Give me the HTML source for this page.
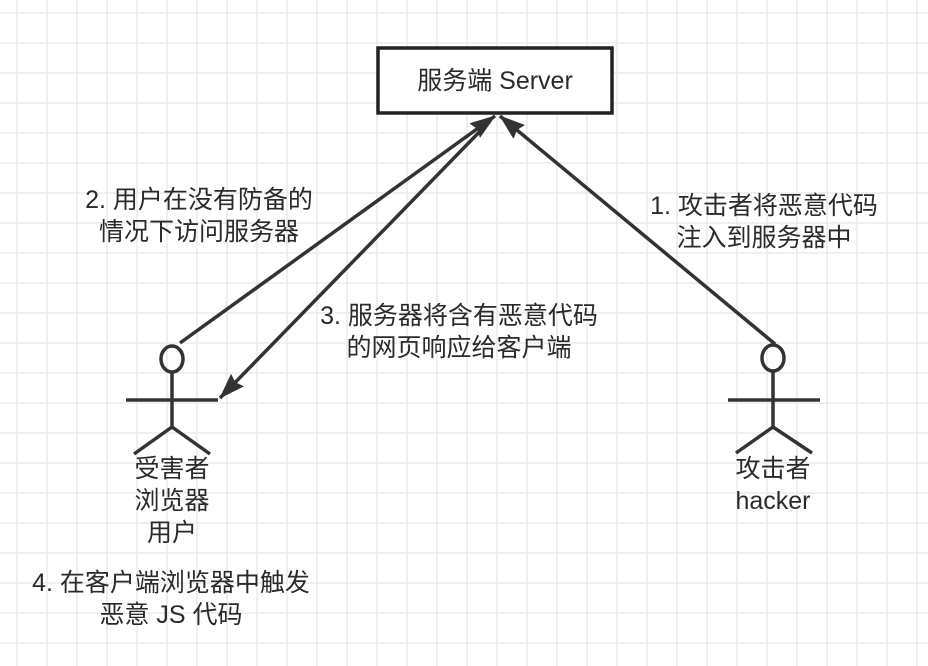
<!DOCTYPE html>
<html><head><meta charset="utf-8"><style>
html,body{margin:0;padding:0;background:#fff;}
svg{display:block;}
text{font-family:"Liberation Sans","Noto Sans CJK SC",sans-serif;font-size:25px;fill:#2a2a2a;}
</style></head><body>
<svg width="928" height="666" viewBox="0 0 928 666" xmlns="http://www.w3.org/2000/svg">
<defs>
<pattern id="g" x="16" y="12" width="30" height="30" patternUnits="userSpaceOnUse">
<path d="M0 1H30M1 0V30" stroke="#ebebeb" stroke-width="1.6" fill="none"/>
</pattern>
<marker id="a" viewBox="0 0 26 18" refX="25" refY="9" markerWidth="26" markerHeight="18" markerUnits="userSpaceOnUse" orient="auto">
<path d="M0 0L26 9L0 18L3 9Z" fill="#333"/>
</marker>
</defs>
<rect width="928" height="666" fill="url(#g)"/>
<rect x="378" y="48" width="234" height="65" fill="#fff" stroke="#222" stroke-width="3.5"/>
<text x="495" y="81" text-anchor="middle" dominant-baseline="central">服务端 Server</text>
<g stroke="#333" stroke-width="3.5" fill="none">
<line x1="180" y1="343" x2="495" y2="116" marker-end="url(#a)"/>
<line x1="490" y1="121" x2="220" y2="398" marker-end="url(#a)"/>
<line x1="775" y1="344" x2="500" y2="116" marker-end="url(#a)"/>
<ellipse cx="172" cy="359" rx="11" ry="13"/>
<line x1="172" y1="372" x2="172" y2="427"/>
<line x1="126" y1="400" x2="218" y2="400"/>
<path d="M134 454L172 427L210 454"/>
<ellipse cx="773" cy="358" rx="11" ry="13"/>
<line x1="773" y1="371" x2="773" y2="427"/>
<line x1="728" y1="400" x2="820" y2="400"/>
<path d="M736 453L773 427L812 453"/>
</g>
<g text-anchor="middle" dominant-baseline="central">
<text x="199" y="200">2. 用户在没有防备的</text>
<text x="199" y="232">情况下访问服务器</text>
<text x="459" y="316">3. 服务器将含有恶意代码</text>
<text x="459" y="348">的网页响应给客户端</text>
<text x="764" y="206">1. 攻击者将恶意代码</text>
<text x="764" y="238">注入到服务器中</text>
<text x="172" y="469">受害者</text>
<text x="172" y="501">浏览器</text>
<text x="172" y="533">用户</text>
<text x="773" y="469">攻击者</text>
<text x="773" y="501">hacker</text>
<text x="171" y="583">4. 在客户端浏览器中触发</text>
<text x="171" y="615">恶意 JS 代码</text>
</g>
</svg>
</body></html>
